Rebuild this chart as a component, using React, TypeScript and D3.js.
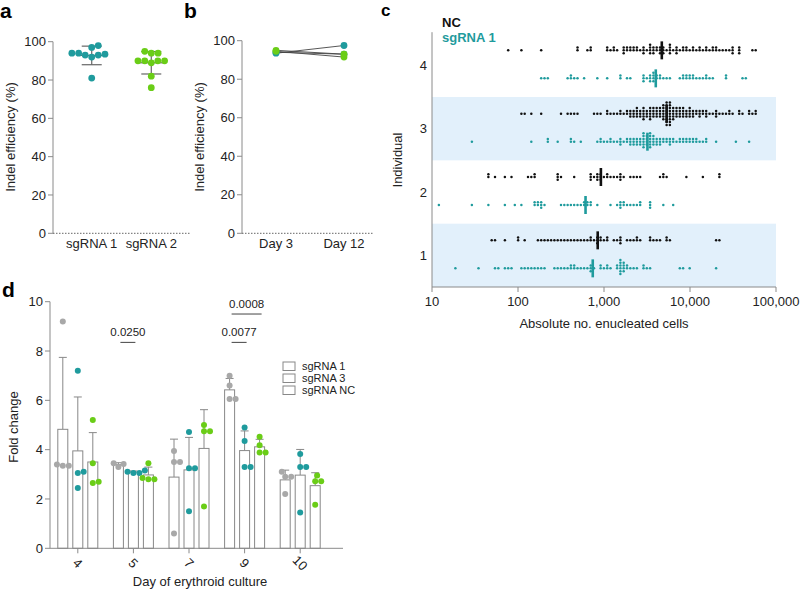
import * as d3 from 'd3';

const TEAL = '#1f9b9d';
const GREEN = '#6acd17';
const GREY_DOT = '#a8a8a8';
const AXIS = '#8a8a8a';
const INK = '#222';
const FONT = 'Liberation Sans, Arial, sans-serif';

// ---- panel a: indel efficiency per guide
const guideNames = ['sgRNA 1', 'sgRNA 2'];
const indelSg1 = [94, 93, 97, 98, 94, 92, 93.5, 93, 81];
const indelSg2 = [90, 94, 90, 95, 90, 94, 89, 90, 82, 76];
const indelTicks = [0, 20, 40, 60, 80, 100];

// ---- panel b: paired day 3 vs day 12
const timePoints = ['Day 3', 'Day 12'];
const sg1Day3 = [93.5, 94];
const sg1Day12 = [97.5, 93];
const sg2Day3 = [95, 94.5];
const sg2Day12 = [93, 91.5];

// ---- panel c: enucleated cells per individual
const individuals = [1, 2, 3, 4];
const cellTicks = [10, 100, 1000, 10000, 100000];
const ncInd1 = [50, 55, 70, 96, 98, 125, 165, 180, 200, 215, 235, 270, 290, 310, 340, 370, 400, 440, 480, 520, 580, 640, 690, 720, 760, 800, 830, 860, 890, 950, 1000, 1050, 1100, 1350, 1400, 1500, 1550, 1600, 1800, 2000, 2200, 2400, 2500, 2600, 3300, 3400, 3600, 4100, 4300, 5500, 5500, 5600, 21000, 21500];
const sgInd1 = [18, 34, 55, 60, 70, 78, 85, 110, 120, 130, 138, 150, 165, 180, 200, 255, 280, 310, 340, 370, 400, 420, 440, 470, 500, 530, 580, 620, 690, 700, 720, 740, 900, 950, 1000, 1050, 1100, 1200, 1400, 1450, 1500, 1500, 1550, 1550, 1600, 1600, 1650, 1650, 1700, 1700, 1800, 1900, 2100, 2300, 2500, 2800, 3000, 3200, 3500, 7600, 8600, 9800, 21000];
const ncInd2 = [44, 45, 56, 68, 85, 130, 140, 150, 160, 280, 285, 290, 330, 440, 680, 700, 720, 750, 800, 830, 870, 880, 890, 950, 1000, 1050, 1100, 1200, 1300, 1400, 1500, 1550, 1600, 1700, 2100, 2200, 2400, 2600, 4400, 4700, 5000, 5500, 9300, 14000, 21500, 22000];
const sgInd2 = [12, 28, 44, 71, 95, 105, 150, 155, 165, 170, 180, 185, 190, 200, 330, 350, 370, 400, 450, 480, 520, 570, 600, 620, 640, 680, 720, 800, 1200, 1400, 1500, 1550, 1600, 1650, 1700, 1800, 2000, 2200, 2400, 2600, 2600, 3300, 3300, 3300, 5000, 6200];
const ncInd3 = [105, 120, 140, 180, 310, 380, 400, 450, 480, 750, 820, 900, 1050, 1100, 1150, 1250, 1400, 1500, 1600, 1700, 1800, 1900, 2000, 2050, 2100, 2200, 2200, 2300, 2400, 2400, 2500, 2500, 2600, 2700, 2700, 2800, 2800, 2900, 3000, 3000, 3100, 3100, 3200, 3300, 3300, 3400, 3500, 3500, 3600, 3700, 3800, 3900, 4000, 4000, 4100, 4200, 4300, 4400, 4500, 4600, 4700, 4800, 4900, 5000, 5000, 5100, 5200, 5200, 5300, 5300, 5400, 5400, 5500, 5500, 5500, 5600, 5600, 5700, 5800, 5800, 5900, 6000, 6000, 6100, 6200, 6300, 6400, 6500, 6600, 6700, 6800, 7000, 7100, 7300, 7500, 7600, 7800, 8000, 8200, 8400, 8600, 8800, 9000, 9200, 9500, 9800, 10000, 10300, 10600, 11000, 11300, 11600, 12000, 12500, 13000, 13500, 14000, 14500, 15000, 15500, 16000, 17000, 19000, 19500, 20000, 21000, 22000, 23000, 26000, 28000, 29000, 30000, 36000, 38000, 40000, 48000, 50000, 55000, 58000, 60000];
const sgInd3 = [28, 145, 215, 230, 285, 400, 420, 440, 520, 830, 880, 930, 960, 1100, 1150, 1200, 1300, 1400, 1500, 1550, 1600, 1700, 1800, 1900, 2000, 2000, 2100, 2200, 2300, 2300, 2400, 2500, 2500, 2600, 2700, 2700, 2800, 2800, 2900, 2900, 3000, 3000, 3100, 3100, 3200, 3200, 3300, 3300, 3400, 3400, 3500, 3500, 3600, 3700, 3800, 3900, 4000, 4000, 4200, 4300, 4500, 4600, 4800, 5000, 5200, 5400, 5600, 5800, 6000, 6300, 6600, 7000, 7300, 7600, 8000, 8400, 8800, 9200, 9600, 10000, 10500, 11000, 11500, 12000, 13000, 14000, 15000, 16000, 20000, 35000, 50000];
const ncInd4 = [78, 110, 190, 500, 510, 650, 700, 720, 1050, 1100, 1150, 1300, 1350, 1400, 1650, 1700, 1750, 1800, 1900, 2100, 2100, 2200, 2300, 2400, 2500, 2700, 2800, 2800, 3000, 3200, 3300, 3300, 3400, 3500, 3700, 3800, 3900, 4000, 4200, 4300, 4400, 4500, 4700, 4800, 5000, 5300, 5600, 5800, 5900, 6000, 6200, 6700, 7000, 7200, 7500, 8200, 8600, 9000, 9300, 9800, 10500, 11000, 12000, 12500, 13500, 14000, 15000, 16000, 17000, 18000, 19000, 20000, 21000, 22000, 24000, 26000, 28000, 30000, 31000, 32000, 37000, 38000, 39000, 52000, 58000];
const sgInd4 = [180, 200, 230, 380, 400, 420, 450, 480, 570, 830, 1100, 1500, 1600, 1800, 2000, 2800, 2900, 3000, 3100, 3300, 3400, 3500, 3600, 3700, 3800, 3900, 4000, 4100, 4300, 4500, 4800, 5200, 5800, 7600, 8000, 8500, 9000, 9000, 9500, 10000, 10500, 11000, 11500, 13000, 14000, 15000, 16000, 17000, 19000, 26000, 27000, 42000, 46000];
const ncRows = [ncInd1, ncInd2, ncInd3, ncInd4];
const sgRows = [sgInd1, sgInd2, sgInd3, sgInd4];

// ---- panel d: fold change over erythroid culture
const cultureDays = ['4', '5', '7', '9', '10'];
const guides = ['sgRNA 1', 'sgRNA 3', 'sgRNA NC'];
const foldSg1 = [[9.2, 3.4, 3.35, 3.35], [3.3, 3.42, 3.45], [3.95, 3.5, 3.5, 0.6], [7.0, 6.6, 6.05, 6.05], [3.1, 2.9, 2.9, 2.2]];
const foldSg3 = [[7.2, 3.1, 3.05, 2.45], [3.15, 3.05, 3.1, 3.05], [4.72, 3.25, 3.25, 1.5], [4.9, 4.35, 3.3, 3.3], [3.82, 3.3, 3.3, 1.45]];
const foldNC = [[5.2, 3.45, 2.7, 2.65], [3.45, 2.8, 2.8, 2.85], [5.0, 4.75, 4.75, 1.7], [4.52, 4.18, 3.88, 3.88], [2.95, 2.72, 2.72, 1.77]];
const foldTicks = [0, 2, 4, 6, 8, 10];
const pDays = ['5', '9', '9'];
const pFrom = ['sgRNA 1', 'sgRNA 1', 'sgRNA 1'];
const pTo = ['sgRNA 3', 'sgRNA 3', 'sgRNA NC'];
const pLevel = [8.35, 8.35, 9.5];
const pLabels = ['0.0250', '0.0077', '0.0008'];

// horizontal beeswarm: offsets for points at pixel positions ys
function swarm(ys: number[], r: number): number[] {
  const order = ys.map((_, i) => i).sort((a, b) => ys[b] - ys[a]);
  const placed: { x: number; y: number }[] = [];
  const out = new Array(ys.length).fill(0);
  const d = 2 * r;
  for (const i of order) {
    const y = ys[i];
    const cands = [0];
    for (const p of placed) {
      const dy = Math.abs(p.y - y);
      if (dy < d) {
        const dx = Math.sqrt(d * d - dy * dy);
        cands.push(p.x + dx, p.x - dx);
      }
    }
    cands.sort((a, b) => Math.abs(a) - Math.abs(b));
    let best = 0;
    for (const c of cands) {
      if (placed.every((p) => (p.x - c) ** 2 + (p.y - y) ** 2 >= d * d - 0.01)) { best = c; break; }
    }
    placed.push({ x: best, y });
    out[i] = best;
  }
  return out;
}

// column stacking for the dense dot rows of panel c
function columns(xs: number[], binW: number, step: number) {
  const counts = new Map<number, number>();
  return xs.map((x) => {
    const b = Math.round(x / binW);
    const k = counts.get(b) ?? 0;
    counts.set(b, k + 1);
    const off = k === 0 ? 0 : (k % 2 === 1 ? -1 : 1) * Math.ceil(k / 2) * step;
    return { x: b * binW, dy: off };
  });
}

const sd = (v: number[]) => d3.deviation(v) ?? 0;

function PanelA() {
  const y = d3.scaleLinear().domain([0, 100]).range([233.3, 41.7]);
  const x = d3.scalePoint().domain(guideNames).range([53, 190]).padding(0.65);
  const sets = [indelSg1, indelSg2];
  const cols = [TEAL, GREEN];
  return (
    <g>
      <text x={0} y={18} fontSize={21} fontWeight="bold">a</text>
      <line x1={53} x2={53} y1={y(100)} y2={y(0)} stroke={AXIS} />
      {indelTicks.map((t) => (
        <g key={t}>
          <line x1={48} x2={53} y1={y(t)} y2={y(t)} stroke={AXIS} />
          <text x={46} y={y(t)} dy="0.35em" textAnchor="end" fontSize={13} fill={INK}>{t}</text>
        </g>
      ))}
      <line x1={53} x2={190} y1={y(0)} y2={y(0)} stroke="#666" strokeDasharray="1.5,1.5" />
      <text transform={`translate(15,${137}) rotate(-90)`} textAnchor="middle" fontSize={13} fill={INK}>Indel efficiency (%)</text>
      {guideNames.map((g, gi) => {
        const vals = sets[gi];
        const cx = x(g)!;
        const m = d3.mean(vals)!;
        const s = sd(vals);
        const offs = swarm(vals.map((v) => y(v)), 3.4);
        return (
          <g key={g}>
            <text x={cx} y={248} textAnchor="middle" fontSize={13} fill={INK}>{g}</text>
            <line x1={cx} x2={cx} y1={y(m - s)} y2={y(m + s)} stroke="#666" strokeWidth={1.2} />
            <line x1={cx - 10} x2={cx + 10} y1={y(m - s)} y2={y(m - s)} stroke="#666" strokeWidth={1.2} />
            <line x1={cx - 10} x2={cx + 10} y1={y(m + s)} y2={y(m + s)} stroke="#666" strokeWidth={1.2} />
            <line x1={cx - 14} x2={cx + 14} y1={y(m)} y2={y(m)} stroke="#666" strokeWidth={1.2} />
            {vals.map((v, i) => (
              <circle key={i} cx={cx + offs[i]} cy={y(v)} r={3.4} fill={cols[gi]} />
            ))}
          </g>
        );
      })}
    </g>
  );
}

function PanelB() {
  const y = d3.scaleLinear().domain([0, 100]).range([233.3, 40.7]);
  const x = d3.scalePoint().domain(timePoints).range([242, 378]).padding(0.5);
  const pairs = [
    { a: sg1Day3, b: sg1Day12, c: TEAL },
    { a: sg2Day3, b: sg2Day12, c: GREEN },
  ];
  return (
    <g>
      <text x={184} y={18} fontSize={21} fontWeight="bold">b</text>
      <line x1={242} x2={242} y1={y(100)} y2={y(0)} stroke={AXIS} />
      {indelTicks.map((t) => (
        <g key={t}>
          <line x1={237} x2={242} y1={y(t)} y2={y(t)} stroke={AXIS} />
          <text x={235} y={y(t)} dy="0.35em" textAnchor="end" fontSize={13} fill={INK}>{t}</text>
        </g>
      ))}
      <line x1={242} x2={374} y1={y(0)} y2={y(0)} stroke="#666" strokeDasharray="1.5,1.5" />
      <text transform={`translate(204,${137}) rotate(-90)`} textAnchor="middle" fontSize={13} fill={INK}>Indel efficiency (%)</text>
      {timePoints.map((t) => (
        <text key={t} x={x(t)!} y={248} textAnchor="middle" fontSize={13} fill={INK}>{t}</text>
      ))}
      {pairs.map((p, pi) =>
        p.a.map((v, i) => (
          <line key={`l${pi}${i}`} x1={x('Day 3')!} x2={x('Day 12')!} y1={y(v)} y2={y(p.b[i])} stroke="#444" strokeWidth={0.9} />
        ))
      )}
      {pairs.map((p, pi) =>
        p.a.map((v, i) => (
          <g key={`d${pi}${i}`}>
            <circle cx={x('Day 3')!} cy={y(v)} r={3.4} fill={p.c} />
            <circle cx={x('Day 12')!} cy={y(p.b[i])} r={3.4} fill={p.c} />
          </g>
        ))
      )}
    </g>
  );
}

function PanelC() {
  const x = d3.scaleLog().domain([10, 100000]).range([432, 776]);
  const y = d3.scaleLinear().domain([0.5, 4.5]).range([287, 33.7]);
  const fmt = d3.format(',');
  const rows = individuals.flatMap((ind, i) => [
    { vals: ncRows[i], cy: y(ind) - 15, color: '#111' },
    { vals: sgRows[i], cy: y(ind) + 13, color: TEAL },
  ]);
  return (
    <g>
      <text x={381} y={16} fontSize={17} fontWeight="bold">c</text>
      {[1, 3].map((ind) => (
        <rect key={ind} x={432} width={344} y={y(ind + 0.5)} height={y(ind - 0.5) - y(ind + 0.5)} fill="#e2f0fb" />
      ))}
      <line x1={432} x2={432} y1={y(4.5) - 1.5} y2={y(0.5)} stroke={AXIS} />
      <line x1={432} x2={776} y1={y(0.5)} y2={y(0.5)} stroke={AXIS} />
      {cellTicks.map((t) => (
        <g key={t}>
          <line x1={x(t)} x2={x(t)} y1={y(0.5)} y2={y(0.5) + 5} stroke={AXIS} />
          <text x={x(t)} y={306} textAnchor="middle" fontSize={13} fill={INK}>{fmt(t)}</text>
        </g>
      ))}
      {individuals.map((ind) => (
        <text key={ind} x={427} y={y(ind)} dy="0.35em" textAnchor="end" fontSize={13} fill={INK}>{ind}</text>
      ))}
      <text transform="translate(402,160) rotate(-90)" textAnchor="middle" fontSize={13} fill={INK}>Individual</text>
      <text x={604} y={328} textAnchor="middle" fontSize={13} fill={INK}>Absolute no. enucleated cells</text>
      <text x={442} y={27} fontSize={13} fontWeight="bold" fill="#111">NC</text>
      <text x={442} y={42} fontSize={13} fontWeight="bold" fill={TEAL}>sgRNA 1</text>
      {rows.map((row, ri) => {
        const pts = columns(row.vals.map((v) => x(v)), 3.3, 2.8);
        const med = d3.median(row.vals)!;
        return (
          <g key={ri}>
            {pts.map((p, i) => (
              <circle key={i} cx={p.x} cy={row.cy + p.dy} r={1.25} fill={row.color} />
            ))}
            <line x1={x(med)} x2={x(med)} y1={row.cy - 9} y2={row.cy + 9} stroke={row.color} strokeWidth={2.6} />
          </g>
        );
      })}
    </g>
  );
}

function PanelD() {
  const y = d3.scaleLinear().domain([0, 10]).range([548.3, 301.7]);
  const x = d3.scalePoint().domain(cultureDays).range([50, 328]).padding(0.5);
  const sub = d3.scalePoint().domain(guides).range([-15, 15]);
  const sets = [foldSg1, foldSg3, foldNC];
  const cols = [GREY_DOT, TEAL, GREEN];
  const bw = 10;
  return (
    <g>
      <text x={2} y={297} fontSize={21} fontWeight="bold">d</text>
      {cultureDays.map((day, di) =>
        guides.map((g, gi) => {
          const vals = sets[gi][di];
          const cx = x(day)! + sub(g)!;
          const m = d3.mean(vals)!;
          const s = sd(vals);
          return (
            <g key={`${day}${g}`}>
              <line x1={cx} x2={cx} y1={y(m)} y2={y(m + s)} stroke="#888" />
              <line x1={cx - 4} x2={cx + 4} y1={y(m + s)} y2={y(m + s)} stroke="#888" />
              <rect x={cx - bw / 2} y={y(m)} width={bw} height={y(0) - y(m)} fill="#fff" stroke="#888" />
            </g>
          );
        })
      )}
      {cultureDays.map((day, di) =>
        guides.map((g, gi) => {
          const vals = sets[gi][di];
          const cx = x(day)! + sub(g)!;
          const offs = swarm(vals.map((v) => y(v)), 3);
          return vals.map((v, i) => (
            <circle key={`${day}${g}${i}`} cx={cx + offs[i]} cy={y(v)} r={3} fill={cols[gi]} />
          ));
        })
      )}
      <line x1={50} x2={50} y1={y(10)} y2={y(0)} stroke={AXIS} />
      <line x1={50} x2={343} y1={y(0)} y2={y(0)} stroke={AXIS} />
      {foldTicks.map((t) => (
        <g key={t}>
          <line x1={45} x2={50} y1={y(t)} y2={y(t)} stroke={AXIS} />
          <text x={43} y={y(t)} dy="0.35em" textAnchor="end" fontSize={13} fill={INK}>{t}</text>
        </g>
      ))}
      {cultureDays.map((day) => (
        <g key={day}>
          <line x1={x(day)!} x2={x(day)!} y1={y(0)} y2={y(0) + 5} stroke={AXIS} />
          <text transform={`translate(${x(day)!},${563}) rotate(45)`} textAnchor="middle" dy="0.35em" fontSize={13} fill={INK}>{day}</text>
        </g>
      ))}
      <text transform="translate(18,427) rotate(-90)" textAnchor="middle" fontSize={13} fill={INK}>Fold change</text>
      <text x={200} y={586} textAnchor="middle" fontSize={13} fill={INK}>Day of erythroid culture</text>
      {pLabels.map((lab, i) => {
        const x1 = x(pDays[i])! + sub(pFrom[i])! + 2;
        const x2 = x(pDays[i])! + sub(pTo[i])! + 2;
        return (
          <g key={lab}>
            <line x1={x1} x2={x2} y1={y(pLevel[i])} y2={y(pLevel[i])} stroke="#444" />
            <text x={(x1 + x2) / 2} y={y(pLevel[i]) - 6} textAnchor="middle" fontSize={11.5} fill={INK}>{lab}</text>
          </g>
        );
      })}
      {guides.map((g, i) => (
        <g key={g} transform={`translate(283,${362 + i * 12})`}>
          <rect x={0} y={0} width={12} height={8.5} fill="#fff" stroke="#888" />
          <text x={19} y={8} fontSize={11} fill={INK}>{g}</text>
        </g>
      ))}
    </g>
  );
}

export default function App() {
  return (
    <div style={{ position: 'absolute', left: 0, top: 0 }}>
      <svg width={800} height={589} fontFamily={FONT} style={{ display: 'block', background: '#fff' }}>
        <PanelA />
        <PanelB />
        <PanelC />
        <PanelD />
      </svg>
    </div>
  );
}
